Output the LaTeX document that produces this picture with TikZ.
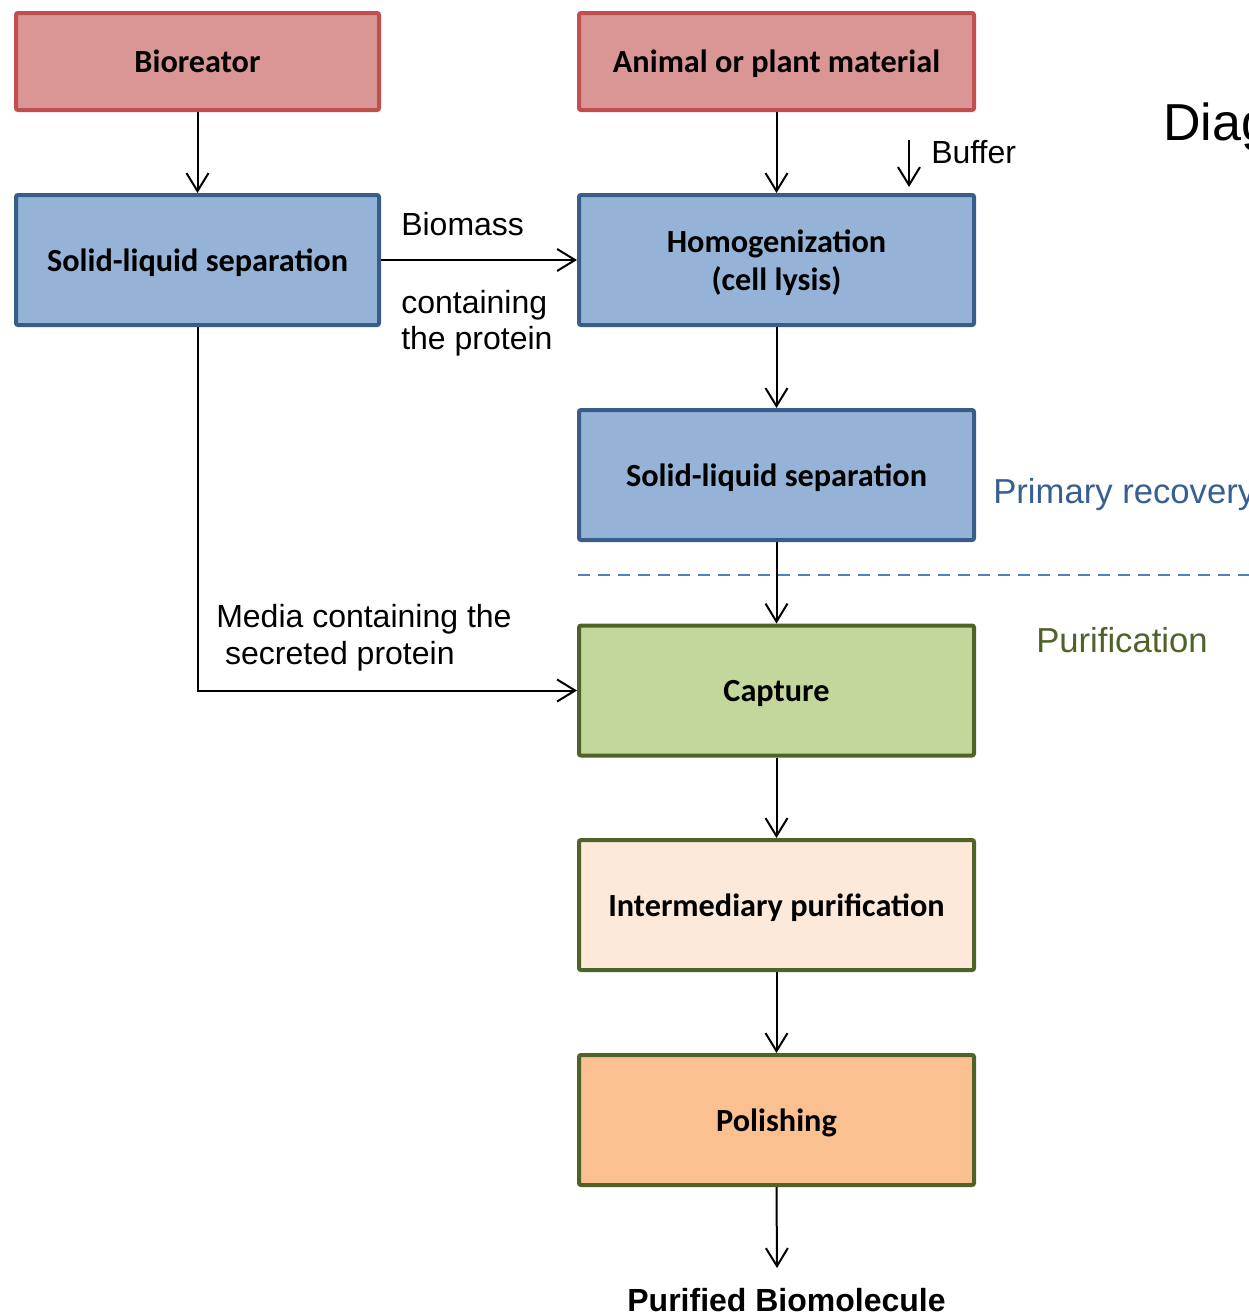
\documentclass[tikz,border=0pt]{standalone}
\usepackage{fontspec}
\setmainfont{Liberation Sans}
\newfontfamily\boxfont{Carlito}
\usetikzlibrary{arrows.meta}

\definecolor{redfill}{HTML}{D99694}
\definecolor{redline}{HTML}{C0504D}
\definecolor{bluefill}{HTML}{95B3D7}
\definecolor{blueline}{HTML}{385D8A}
\definecolor{greenfill}{HTML}{C3D69B}
\definecolor{greenline}{HTML}{4F6228}
\definecolor{peachfill}{HTML}{FDE9D9}
\definecolor{orangefill}{HTML}{FAC090}
\definecolor{dashblue}{HTML}{4F81BD}
\definecolor{phaseblue}{HTML}{376092}
\definecolor{phasegreen}{HTML}{4F6228}

% fixed top and bottom struts so every box label sits at the same height
\newcommand{\topstrut}{\rule{0pt}{23.5pt}}
\newcommand{\botstrut}{\rule[-7pt]{0pt}{7pt}}

\begin{document}
\begin{tikzpicture}[x=0.75pt, y=-0.75pt,
  stagebox/.style={draw, line width=3pt, rounded corners=1.5pt,
    font=\boxfont\bfseries\fontsize{24.2}{28.5}\selectfont, align=center,
    inner sep=0pt, minimum height=97.5pt},
  leftcol/.style={minimum width=272.25pt},
  rightcol/.style={minimum width=296.25pt},
  redbox/.style={stagebox, fill=redfill, draw=redline, minimum height=72.75pt},
  bluebox/.style={stagebox, fill=bluefill, draw=blueline},
  greenbox/.style={stagebox, draw=greenline},
  flow/.style={line width=1.5pt, -{Straight Barb[length=13.5pt, width=16.5pt]}},
  lbl/.style={inner sep=0pt, anchor=base west, font=\fontsize{24}{27.6}\selectfont},
  phase/.style={inner sep=0pt, anchor=base west, font=\fontsize{26}{30}\selectfont}
]
\useasboundingbox (0,0) rectangle (1249,1314);
\clip (0,0) rectangle (1249,1314);

% process stages
\node[redbox, leftcol]  (bio)    at (197.5,61.5) {\topstrut Bioreator\botstrut};
\node[redbox, rightcol] (animal) at (776.5,61.5) {\topstrut Animal or plant material\botstrut};
\node[bluebox, leftcol]  (sls1)  at (197.5,260) {\topstrut Solid-liquid separation\botstrut};
\node[bluebox, rightcol] (homog) at (776.5,260) {\topstrut Homogenization\\(cell lysis)\botstrut};
\node[bluebox, rightcol] (sls2)  at (776.5,475) {\topstrut Solid-liquid separation\botstrut};
\node[greenbox, rightcol, fill=greenfill]  (capture) at (776.5,690.5) {\topstrut Capture\botstrut};
\node[greenbox, rightcol, fill=peachfill]  (inter)   at (776.5,905) {\topstrut Intermediary purification\botstrut};
\node[greenbox, rightcol, fill=orangefill] (polish)  at (776.5,1120) {\topstrut Polishing\botstrut};

% free ends
\coordinate (bufA) at (909,140);
\coordinate (bufB) at (909,187);
\coordinate (prodA) at (777,1268);

% connectors
\draw[flow] (bio) -- (sls1);
\draw[flow] (animal) -- (homog);
\draw[flow] (bufA) -- (bufB);
\draw[flow] (sls1) -- (homog);
\draw[flow] (homog) -- (sls2);
\draw[flow] (sls2) -- (capture);
\draw[flow] (sls1.south) |- (capture.west);
\draw[flow] (capture) -- (inter);
\draw[flow] (inter) -- (polish);
\draw[flow] (polish.south) -- (prodA);

% phase divider
\coordinate (divL) at (578,575);
\coordinate (divR) at (1249,575);
\draw[dashblue, line width=1.5pt, dash pattern=on 9pt off 6pt] (divL) -- (divR);

% labels
\node[lbl] (buffer) at (931,163) {Buffer};
\node[lbl] (biomass) at (401,235) {Biomass};
\node[lbl] (cont1) at (401,313) {containing};
\node[lbl] (cont2) at (401,349) {the protein};
\node[lbl] (media1) at (216,627) {Media containing the};
\node[lbl] (media2) at (216,664) {\ secreted protein};
\node[phase, text=phaseblue] (primary) at (993,503) {Primary recovery};
\node[phase, text=phasegreen] (purif) at (1036,652) {Purification};
\node[inner sep=0pt, anchor=base west, font=\fontsize{39}{44}\selectfont] (title) at (1163,140) {Diagram};
\node[inner sep=0pt, anchor=base, font=\bfseries\fontsize{24}{27.6}\selectfont] (product) at (786.5,1311) {Purified Biomolecule};
\end{tikzpicture}
\end{document}
